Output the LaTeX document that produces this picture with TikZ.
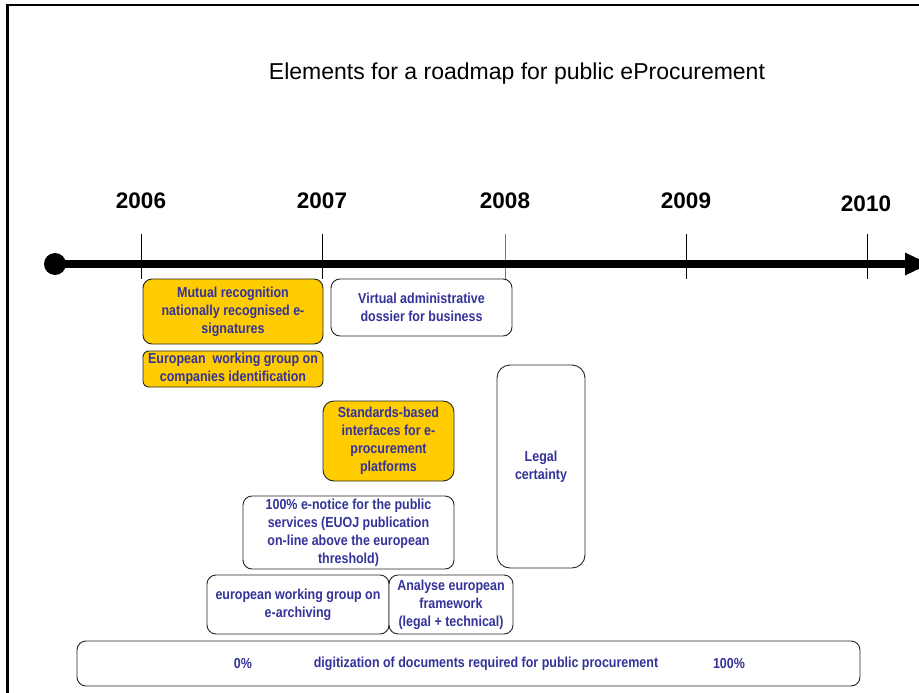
\documentclass[tikz,border=0pt]{standalone}
\usepackage{fontspec}
\setmainfont{Liberation Sans}
\newfontfamily\bxfont[FakeStretch=0.86]{Liberation Sans}
\definecolor{txtblue}{RGB}{51,51,153}
\definecolor{boxorange}{RGB}{255,204,0}
\begin{document}
\begin{tikzpicture}[x=1pt,y=-1pt,
  boxbase/.style={draw=black!85, line width=0.9pt, rounded corners=9pt, inner sep=0pt,
    align=center, text=txtblue, font=\bxfont\bfseries\fontsize{14.5}{18}\selectfont},
  obox/.style={boxbase, fill=boxorange},
  wbox/.style={boxbase, fill=white},
  yearlbl/.style={font=\bfseries\fontsize{22.5}{26}\selectfont, inner sep=0pt},
  tickline/.style={line width=0.9pt, draw=black},
  btext/.style={inner sep=0pt, text=txtblue, font=\bxfont\bfseries\fontsize{14.5}{18}\selectfont}
]
\useasboundingbox (0,0) rectangle (919,693);
\fill[white] (0,0) rectangle (919,693);
% frame
\draw[line width=2.2pt] (7.5,700) -- (7.5,5) -- (930,5);
% title
\node[inner sep=0pt, font=\fontsize{23}{27}\selectfont] (title) at (517,74) {Elements for a roadmap for public eProcurement};
% years
\node[yearlbl] (y2006) at (141,201) {2006};
\node[yearlbl] (y2007) at (322,201) {2007};
\node[yearlbl] (y2008) at (505,201) {2008};
\node[yearlbl] (y2009) at (686,201) {2009};
\node[yearlbl] (y2010) at (866,204) {2010};
% ticks
\coordinate (t6a) at (141,234); \coordinate (t6b) at (141,279);
\coordinate (t7a) at (322,234); \coordinate (t7b) at (322,279);
\coordinate (t8a) at (505,234); \coordinate (t8b) at (505,279);
\coordinate (t9a) at (686,234); \coordinate (t9b) at (686,279);
\coordinate (t10a) at (867,234); \coordinate (t10b) at (867,279);
\draw[tickline] (t6a) -- (t6b);
\draw[tickline] (t7a) -- (t7b);
\draw[tickline, draw=black!55] (t8a) -- (t8b);
\draw[tickline] (t9a) -- (t9b);
\draw[tickline] (t10a) -- (t10b);
% axis
\coordinate (axstart) at (55,264);
\coordinate (axend) at (906,264);
\draw[line width=8pt] (axstart) -- (axend);
\fill (axstart) circle (11);
\fill (905,252.5) -- (929,264) -- (905,275.5) -- cycle;
% boxes
\node[obox, minimum width=180pt, minimum height=65pt] (mutual) at (233,311.5)
  {Mutual recognition\\nationally recognised e-\\signatures};
\node[obox, minimum width=180pt, minimum height=36pt, rounded corners=6pt] (ewg) at (233,369)
  {European\ \ working group on\\companies identification};
\node[wbox, minimum width=181pt, minimum height=57pt] (virtual) at (421.5,307.5)
  {Virtual administrative\\dossier for business};
\node[wbox, minimum width=88pt, minimum height=203pt, rounded corners=13pt] (legal) at (541,466.5)
  {Legal\\certainty};
\node[obox, minimum width=131pt, minimum height=80pt, rounded corners=11pt] (std) at (388.5,441)
  {Standards-based\\interfaces for e-\\procurement\\platforms};
\node[wbox, minimum width=211pt, minimum height=73pt] (enotice) at (348.5,532.5)
  {100\% e-notice for the public\\services (EUOJ publication\\on-line above the european\\threshold)};
\node[wbox, minimum width=182pt, minimum height=59pt] (earch) at (298,604.5)
  {european working group on\\e-archiving};
\node[wbox, minimum width=124pt, minimum height=59pt] (analyse) at (451,604.5)
  {Analyse european\\framework\\(legal + technical)};
\node[wbox, minimum width=783pt, minimum height=45pt] (digit) at (468.5,663.5) {};
\node[btext] (zero) at (243,663.5) {0\%};
\node[btext] (dtext) at (486,663.5) {digitization of documents required for public procurement};
\node[btext] (hundred) at (729,663.5) {100\%};
\end{tikzpicture}
\end{document}
